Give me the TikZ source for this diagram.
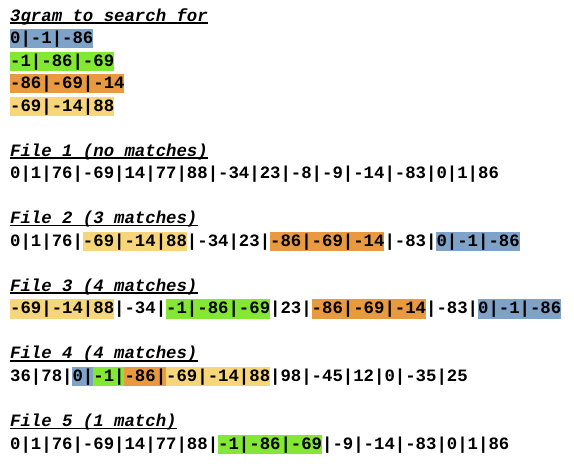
\documentclass[tikz,border=0pt]{standalone}
\usepackage{fontspec}
\newfontfamily\monofam{Liberation Mono}
\definecolor{hlblue}{HTML}{7FA3C8}
\definecolor{hlgreen}{HTML}{82E834}
\definecolor{hlorange}{HTML}{E99A40}
\definecolor{hlyellow}{HTML}{F7D57A}
\tikzset{
  codeline/.style={anchor=base west, inner sep=0pt, text=black,
    font=\monofam\bfseries\fontsize{17.33}{20}\selectfont},
  headline/.style={codeline,
    font=\monofam\bfseries\itshape\fontsize{17.33}{20}\selectfont},
  uline/.style={line width=1.5pt, black},
}
% highlight: colour, row, first char, number of chars
\newcommand\hlbox[4]{%
  \fill[#1] ({10+10.4*#3},{-21-22.53*#2-4.7}) rectangle ({10+10.4*(#3+#4)},{-21-22.53*#2+14.5});}
\newcommand\headul[1]{%
  \draw[uline] ([yshift=-1.8pt]#1.base west) -- ([yshift=-1.8pt]#1.base east);}
\begin{document}
\begin{tikzpicture}[x=1pt,y=1pt]
\fill[white] (0,0) rectangle (574,-464);
\useasboundingbox (0,0) rectangle (574,-464);
% highlights
\hlbox{hlblue}{1}{0}{8}
\hlbox{hlgreen}{2}{0}{10}
\hlbox{hlorange}{3}{0}{11}
\hlbox{hlyellow}{4}{0}{10}
% file 2
\hlbox{hlyellow}{10}{7}{10}
\hlbox{hlorange}{10}{25}{11}
\hlbox{hlblue}{10}{41}{8}
% file 3
\hlbox{hlyellow}{13}{0}{10}
\hlbox{hlgreen}{13}{15}{10}
\hlbox{hlorange}{13}{29}{11}
\hlbox{hlblue}{13}{45}{8}
% file 4
\hlbox{hlblue}{16}{6}{2}
\hlbox{hlgreen}{16}{8}{3}
\hlbox{hlorange}{16}{11}{4}
\hlbox{hlyellow}{16}{15}{10}
% file 5
\hlbox{hlgreen}{19}{20}{10}
% texts
\node[headline] (h0) at (10,{-21}) {3gram to search for};
\node[codeline] (g1) at (10,{-21-22.53*1}) {0|-1|-86};
\node[codeline] (g2) at (10,{-21-22.53*2}) {-1|-86|-69};
\node[codeline] (g3) at (10,{-21-22.53*3}) {-86|-69|-14};
\node[codeline] (g4) at (10,{-21-22.53*4}) {-69|-14|88};
\node[headline] (h1) at (10,{-21-22.53*6}) {File 1 (no matches)};
\node[codeline] (f1) at (10,{-21-22.53*7}) {0|1|76|-69|14|77|88|-34|23|-8|-9|-14|-83|0|1|86};
\node[headline] (h2) at (10,{-21-22.53*9}) {File 2 (3 matches)};
\node[codeline] (f2) at (10,{-21-22.53*10}) {0|1|76|-69|-14|88|-34|23|-86|-69|-14|-83|0|-1|-86};
\node[headline] (h3) at (10,{-21-22.53*12}) {File 3 (4 matches)};
\node[codeline] (f3) at (10,{-21-22.53*13}) {-69|-14|88|-34|-1|-86|-69|23|-86|-69|-14|-83|0|-1|-86};
\node[headline] (h4) at (10,{-21-22.53*15}) {File 4 (4 matches)};
\node[codeline] (f4) at (10,{-21-22.53*16}) {36|78|0|-1|-86|-69|-14|88|98|-45|12|0|-35|25};
\node[headline] (h5) at (10,{-21-22.53*18}) {File 5 (1 match)};
\node[codeline] (f5) at (10,{-21-22.53*19}) {0|1|76|-69|14|77|88|-1|-86|-69|-9|-14|-83|0|1|86};
% underlines
\headul{h0}
\headul{h1}
\headul{h2}
\headul{h3}
\headul{h4}
\headul{h5}
\end{tikzpicture}
\end{document}
